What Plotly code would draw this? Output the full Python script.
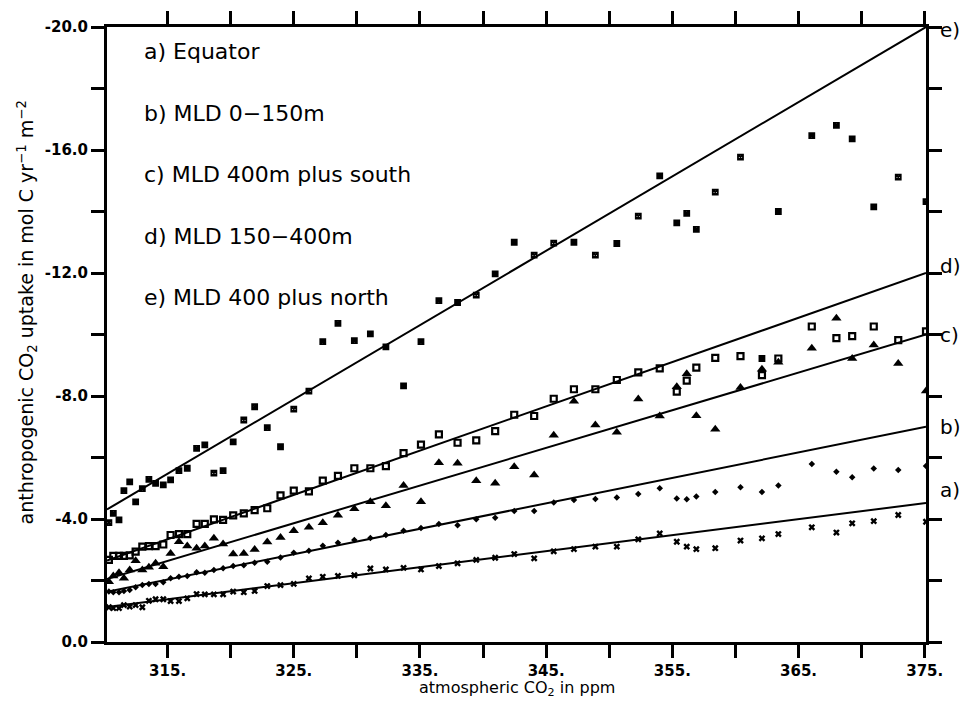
import plotly.graph_objects as go

# atmospheric CO2 (ppm) at which the uptake was sampled
co2 = [310.35, 310.7, 311.15, 311.54, 312.0, 312.47, 313.0, 313.52, 314.05, 314.66,
       315.24, 315.9, 316.56, 317.3, 317.95, 318.67, 319.4, 320.2, 321.04, 321.9,
       322.9, 323.95, 325.0, 326.2, 327.3, 328.5, 329.8, 331.07, 332.3, 333.7,
       335.08, 336.5, 337.98, 339.46, 340.96, 342.47, 344.05, 345.6, 347.2, 348.9,
       350.6, 352.3, 354.0, 355.35, 356.14, 356.9, 358.4, 360.4, 362.1, 363.4,
       366.05, 368.0, 369.25, 370.96, 372.9, 375.1]

# a) Equator
uptake_a = [-1.13, -1.10, -1.10, -1.20, -1.15, -1.20, -1.13, -1.34, -1.39, -1.39,
            -1.33, -1.33, -1.42, -1.56, -1.55, -1.55, -1.55, -1.64, -1.62, -1.66,
            -1.82, -1.85, -1.89, -2.07, -2.12, -2.15, -2.17, -2.39, -2.36, -2.41,
            -2.36, -2.47, -2.56, -2.67, -2.74, -2.86, -2.72, -2.95, -3.02, -3.10,
            -3.10, -3.34, -3.53, -3.26, -3.10, -3.02, -3.05, -3.30, -3.37, -3.51,
            -3.73, -3.56, -3.86, -3.93, -4.13, -3.91]
# b) MLD 0-150m
uptake_b = [-1.64, -1.62, -1.62, -1.66, -1.69, -1.78, -1.85, -1.89, -1.89, -1.94,
            -2.07, -2.12, -2.15, -2.27, -2.25, -2.34, -2.40, -2.47, -2.50, -2.58,
            -2.61, -2.75, -2.90, -2.97, -3.13, -3.23, -3.32, -3.38, -3.48, -3.62,
            -3.71, -3.84, -3.80, -3.99, -4.04, -4.26, -4.26, -4.54, -4.62, -4.65,
            -4.70, -4.81, -5.00, -4.67, -4.64, -4.73, -4.88, -5.03, -4.88, -5.09,
            -5.79, -5.54, -5.36, -5.64, -5.59, -5.72]
# c) MLD 400m plus south
uptake_c = [-1.96, -2.15, -2.25, -2.07, -2.34, -2.64, -2.34, -2.43, -2.56, -2.45,
            -2.88, -3.26, -3.12, -3.05, -3.12, -3.37, -3.19, -2.86, -2.88, -3.01,
            -3.25, -3.40, -3.62, -3.73, -3.88, -4.12, -4.33, -4.56, -4.43, -5.09,
            -4.56, -5.83, -5.81, -5.24, -5.16, -5.70, -5.43, -6.72, -7.83, -7.06,
            -6.82, -7.90, -7.35, -8.30, -8.72, -7.36, -6.92, -8.28, -8.87, -9.10,
            -9.55, -10.53, -9.22, -9.66, -9.06, -8.16]
# d) MLD 150-400m
uptake_d = [-2.67, -2.80, -2.80, -2.80, -2.82, -2.94, -3.10, -3.12, -3.12, -3.17,
            -3.48, -3.51, -3.51, -3.84, -3.84, -3.99, -3.97, -4.12, -4.18, -4.29,
            -4.35, -4.77, -4.92, -4.90, -5.25, -5.40, -5.65, -5.65, -5.72, -6.14,
            -6.42, -6.75, -6.48, -6.56, -6.86, -7.39, -7.35, -7.91, -8.22, -8.22,
            -8.52, -8.77, -8.90, -8.14, -8.50, -8.92, -9.24, -9.30, -8.68, -9.22,
            -10.26, -9.88, -9.95, -10.26, -9.82, -10.10]
# e) MLD 400 plus north
uptake_e = [-3.88, -4.18, -3.97, -4.92, -5.21, -4.56, -4.99, -5.29, -5.16, -5.11,
            -5.27, -5.57, -5.65, -6.30, -6.41, -5.49, -5.57, -6.51, -7.22, -7.65,
            -6.97, -6.35, -7.57, -8.16, -9.77, -10.36, -9.80, -10.02, -9.60, -8.33,
            -9.77, -11.10, -11.04, -11.28, -11.97, -13.00, -12.58, -12.97, -13.00, -12.58,
            -12.96, -13.85, -15.16, -13.63, -13.94, -13.42, -14.63, -15.77, -9.22, -14.00,
            -16.47, -16.80, -16.36, -14.15, -15.12, -14.32]

# fitted lines (start / end values)
fit_x = [310.2, 375.1]
fit_a = [-1.14, -4.52]
fit_b = [-1.63, -7.0]
fit_c = [-2.05, -10.0]
fit_d = [-2.65, -12.0]
fit_e = [-4.31, -20.0]

legend_text = ["a) Equator", "b) MLD 0\u2212150m", "c) MLD 400m plus south",
               "d) MLD 150\u2212400m", "e) MLD 400 plus north"]
legend_y = [-19.2, -17.2, -15.2, -13.2, -11.2]
end_labels = ["a)", "b)", "c)", "d)", "e)"]
end_label_y = [-4.94, -7.0, -10.0, -12.23, -19.9]

x_tickvals = [315, 320, 325, 330, 335, 340, 345, 350, 355, 360, 365, 370, 375]
x_ticktext = ["315.", "", "325.", "", "335.", "", "345.", "", "355.", "", "365.", "", "375."]
y_tickvals = [0, -2, -4, -6, -8, -10, -12, -14, -16, -18, -20]
y_ticktext = ["0.0", "", "-4.0", "", "-8.0", "", "-12.0", "", "-16.0", "", "-20.0"]

fig = go.Figure()

series = [
    (uptake_a, fit_a, dict(symbol="x", size=6, color="black")),
    (uptake_b, fit_b, dict(symbol="diamond", size=5, color="black")),
    (uptake_c, fit_c, dict(symbol="triangle-up", size=9, color="black")),
    (uptake_d, fit_d, dict(symbol="square-open", size=6, color="black",
                           line=dict(width=2.2, color="black"))),
    (uptake_e, fit_e, dict(symbol="square-x-open", size=5, color="black",
                           line=dict(width=1.8, color="black"))),
]
for vals, fit, mk in series:
    fig.add_trace(go.Scatter(x=co2, y=vals, mode="markers", marker=mk,
                             showlegend=False, cliponaxis=True))
    fig.add_trace(go.Scatter(x=fit_x, y=fit, mode="lines",
                             line=dict(color="black", width=2),
                             showlegend=False, cliponaxis=True))

for t, yv in zip(legend_text, legend_y):
    fig.add_annotation(x=313.0, y=yv, xref="x", yref="y", text=t, showarrow=False,
                       xanchor="left", yanchor="middle",
                       font=dict(family="DejaVu Sans", size=22, color="black"))

for t, yv in zip(end_labels, end_label_y):
    fig.add_annotation(x=1, y=yv, xref="paper", yref="y", text=t, showarrow=False,
                       xanchor="left", yanchor="middle", xshift=12,
                       font=dict(family="DejaVu Sans", size=20, color="black"))

fig.add_annotation(x=0, y=0.5, xref="paper", yref="paper", xshift=-80, yshift=22,
                   text="anthropogenic CO<sub>2</sub> uptake in mol C yr<sup>\u22121</sup> m<sup>\u22122</sup>",
                   textangle=-90, showarrow=False, xanchor="center", yanchor="middle",
                   font=dict(family="DejaVu Sans", size=19, color="black"))
fig.add_annotation(x=0.5, y=0, xref="paper", yref="paper", yshift=-46,
                   text="atmospheric CO<sub>2</sub> in ppm", showarrow=False,
                   xanchor="center", yanchor="middle",
                   font=dict(family="DejaVu Sans", size=16, color="black"))

axis_common = dict(showline=True, linewidth=3, linecolor="black", mirror="ticks",
                   ticks="outside", ticklen=13, tickwidth=3, tickcolor="black",
                   showgrid=False, zeroline=False,
                   tickfont=dict(family="DejaVu Sans", size=15, color="black"))

fig.update_xaxes(range=[310.2, 375.1], tickmode="array", tickvals=x_tickvals,
                 ticktext=["<b>%s</b>" % t if t else "" for t in x_ticktext], **axis_common)
fig.update_yaxes(range=[0, -20], tickmode="array", tickvals=y_tickvals,
                 ticktext=["<b>%s</b>" % t if t else "" for t in y_ticktext], **axis_common)

fig.update_layout(width=972, height=702, plot_bgcolor="white", paper_bgcolor="white",
                  margin=dict(l=107, r=46, t=27, b=60), showlegend=False)

fig.write_html("out.html")
